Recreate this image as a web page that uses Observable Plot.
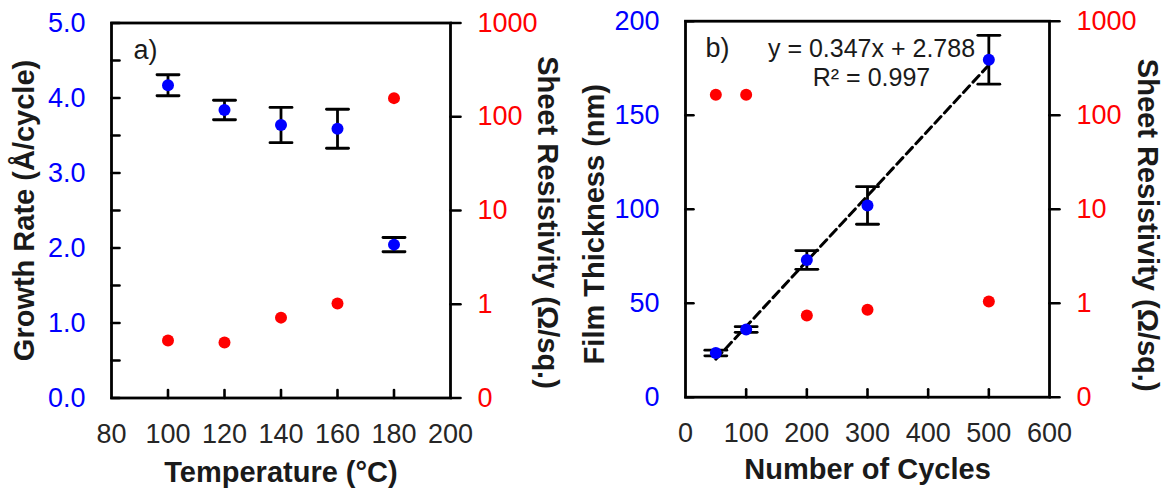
<!DOCTYPE html>
<html><head><meta charset="utf-8">
<script src="https://cdn.jsdelivr.net/npm/d3@7"></script>
<script src="https://cdn.jsdelivr.net/npm/@observablehq/plot@0.6"></script>
<style>
html,body{margin:0;padding:0;background:#fff;}
#wrap{position:relative;width:1164px;height:494px;overflow:hidden;background:#fff;}
#wrap svg{position:absolute;top:0;}
</style></head><body><div id="wrap"></div>
<script>
// ---- data ----
const temperature = [100, 120, 140, 160, 180];
const growthRate = [4.17, 3.84, 3.64, 3.59, 2.045];
const growthErr = [0.14, 0.13, 0.235, 0.26, 0.095];
const resistivityA = [0.41, 0.39, 0.72, 1.02, 158];

const cycles = [50, 100, 200, 300, 500];
const thickness = [23.5, 36, 73, 102, 179.5];
const thicknessErr = [1.5, 1.5, 5, 10, 13];
const resistivityB = [165, 165, 0.74, 0.85, 1.04];

const tempTicks = [80, 100, 120, 140, 160, 180, 200];
const cycleTicks = [0, 100, 200, 300, 400, 500, 600];
const growthTicks = [0, 1, 2, 3, 4, 5];
const growthMinorTicks = [0, 0.5, 1, 1.5, 2, 2.5, 3, 3.5, 4, 4.5, 5];
const thickTicks = [0, 50, 100, 150, 200];
const resTicks = [0.1, 1, 10, 100, 1000];
const resTickLabels = ["0", "1", "10", "100", "1000"];
const fitLines = ["y = 0.347x + 2.788", "R² = 0.997"];

const BLUE = "#0000ff", RED = "#ff0000", INK = "#1a1a1a";
const FONT = "Liberation Sans, Arial, sans-serif";
const lineShape = {draw(ctx, l) { ctx.moveTo(0, 0); ctx.lineTo(0, -l); }};

const wrap = document.getElementById("wrap");

function panel(cfg) {
  const dims = {width: cfg.width, height: 494, marginLeft: cfg.mL, marginRight: cfg.mR, marginTop: cfg.mT, marginBottom: cfg.mB};
  const style = {fontFamily: FONT, fontSize: "27px", background: "transparent", overflow: "visible"};
  const rows = cfg.xs.map((x, i) => ({x, v: cfg.vs[i], e: cfg.es[i], r: cfg.rs[i]}));
  const marks = [
    Plot.frame({stroke: "black", strokeWidth: 2.8}),
    Plot.vector(cfg.yMinor, {y: d => d, frameAnchor: "left", rotate: 90, length: 8, anchor: "start", shape: lineShape, stroke: "black", strokeWidth: 2.6}),
    Plot.vector(cfg.xInner, {x: d => d, frameAnchor: "bottom", rotate: 0, length: 8, anchor: "start", shape: lineShape, stroke: "black", strokeWidth: 2.6}),
    Plot.axisY(cfg.yTicks, {anchor: "left", tickSize: 0, tickPadding: 26, tickFormat: cfg.yFmt, fill: BLUE, fontSize: 27, label: null}),
    Plot.axisX(cfg.xTicks, {anchor: "bottom", tickSize: 0, tickPadding: 26, fill: "#262626", fontSize: 27, label: null}),
    Plot.text([cfg.yLabel], {frameAnchor: "left", dx: cfg.dxL, dy: cfg.dyL, rotate: -90, textAnchor: "middle", lineAnchor: "middle", fontWeight: "bold", fontSize: 29, fill: INK}),
    Plot.text([cfg.rLabel], {frameAnchor: "right", dx: cfg.dxR, dy: cfg.dyR, rotate: 90, textAnchor: "middle", lineAnchor: "middle", fontWeight: "bold", fontSize: 29, fill: INK}),
    Plot.text([cfg.xLabel], {frameAnchor: "bottom", dy: cfg.dyX, textAnchor: "middle", lineAnchor: "middle", fontWeight: "bold", fontSize: 29, fill: INK}),
    Plot.text([cfg.tag], {frameAnchor: "top-left", dx: cfg.tagDx, dy: 27, textAnchor: "start", lineAnchor: "middle", fontSize: 27, fill: INK}),
  ];
  if (cfg.fit) {
    marks.push(Plot.linearRegressionY(rows, {x: "x", y: "v", stroke: "black", strokeWidth: 3, strokeDasharray: "9,5", ci: 0}));
    marks.push(Plot.text([fitLines[0]], {frameAnchor: "top-left", dx: cfg.fitDx, dy: 28, textAnchor: "middle", lineAnchor: "middle", fontSize: 25, fill: INK}));
    marks.push(Plot.text([fitLines[1]], {frameAnchor: "top-left", dx: cfg.fitDx, dy: 57, textAnchor: "middle", lineAnchor: "middle", fontSize: 25, fill: INK}));
  }
  marks.push(
    Plot.ruleX(rows, {x: "x", y1: d => d.v - d.e, y2: d => d.v + d.e, stroke: "black", strokeWidth: 2.8}),
    Plot.vector(rows, {x: "x", y: d => d.v + d.e, rotate: 90, length: 22, anchor: "middle", shape: lineShape, stroke: "black", strokeWidth: 2.8}),
    Plot.vector(rows, {x: "x", y: d => d.v - d.e, rotate: 90, length: 22, anchor: "middle", shape: lineShape, stroke: "black", strokeWidth: 2.8}),
    Plot.dot(rows, {x: "x", y: "v", r: 6, fill: BLUE})
  );
  const main = Plot.plot({...dims, style,
    x: {domain: cfg.xDomain, axis: null, label: null},
    y: {domain: cfg.yDomain, axis: null, label: null},
    marks});
  const over = Plot.plot({...dims, style,
    x: {domain: cfg.xDomain, axis: null, label: null},
    y: {type: "log", domain: [0.1, 1000], axis: null, label: null},
    marks: [
      Plot.vector(resTicks, {y: d => d, frameAnchor: "right", rotate: 90, length: 10, anchor: "start", shape: lineShape, stroke: "black", strokeWidth: 2.6}),
      Plot.axisY(resTicks, {anchor: "right", tickSize: 0, tickPadding: 27, tickFormat: d => resTickLabels[resTicks.indexOf(d)], fill: RED, fontSize: 27, label: null}),
      Plot.dot(rows, {x: "x", y: "r", r: 6, fill: RED})
    ]});
  main.style.left = cfg.left + "px";
  over.style.left = cfg.left + "px";
  wrap.appendChild(main);
  wrap.appendChild(over);
}

panel({
  left: 0, width: 582, mL: 111, mR: 132, mT: 22.5, mB: 96.5,
  xDomain: [80, 200], xTicks: tempTicks, xInner: tempTicks.slice(1, -1),
  yDomain: [0, 5], yTicks: growthTicks, yMinor: growthMinorTicks, yFmt: d3.format(".1f"),
  xs: temperature, vs: growthRate, es: growthErr, rs: resistivityA,
  yLabel: "Growth Rate (Å/cycle)", rLabel: "Sheet Resistivity (Ω/sq.)", xLabel: "Temperature (°C)",
  dxL: -87, dyL: 0, dxR: 97, dyR: 12, dyX: 75, tag: "a)", tagDx: 22
});

panel({
  left: 582, width: 582, mL: 103, mR: 115, mT: 20.7, mB: 97.3,
  xDomain: [0, 600], xTicks: cycleTicks, xInner: cycleTicks.slice(1, -1),
  yDomain: [0, 200], yTicks: thickTicks, yMinor: thickTicks, yFmt: d => String(d),
  xs: cycles, vs: thickness, es: thicknessErr, rs: resistivityB,
  yLabel: "Film Thickness (nm)", rLabel: "Sheet Resistivity (Ω/sq.)", xLabel: "Number of Cycles",
  dxL: -91, dyL: 15, dxR: 98, dyR: 16, dyX: 73, tag: "b)", tagDx: 20,
  fit: true, fitDx: 186
});
</script></body></html>
